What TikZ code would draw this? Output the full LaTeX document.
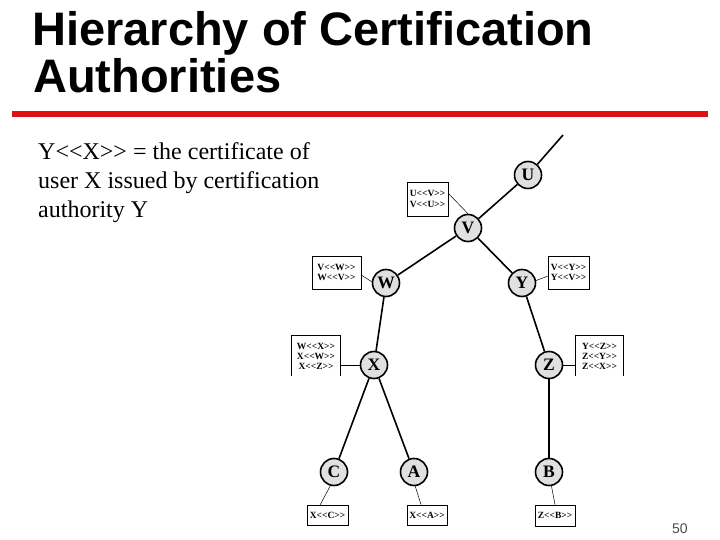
\documentclass[tikz,border=0pt]{standalone}
\usepackage{fontspec}
\setmainfont{Liberation Serif}
\newfontfamily\arialf{Liberation Sans}
\newcommand{\LLt}{<\kern0pt<}
\newcommand{\GGt}{>\kern0pt>}
\definecolor{titlered}{RGB}{225,15,15}
\begin{document}
\begin{tikzpicture}[x=1pt,y=-1pt,
  ca/.style={circle,draw,line width=1.6pt,fill=black!12,minimum size=27pt,inner sep=0pt,
    font=\bfseries\fontsize{17.5}{17.5}\selectfont},
  cert/.style={draw,line width=0.7pt,inner sep=0pt,align=center,
    font=\bfseries\fontsize{9.5}{10.5}\selectfont},
  certopen/.style={inner sep=0pt,align=center,font=\bfseries\fontsize{9.5}{10}\selectfont},
  tree/.style={line width=1.6pt},
  link/.style={line width=0.5pt},
  body/.style={anchor=base west,inner sep=0pt,font=\fontsize{24}{29}\selectfont},
  ttl/.style={anchor=base west,inner sep=0pt,font=\arialf\bfseries\fontsize{47}{47}\selectfont}]
\useasboundingbox (0,0) rectangle (720,540);

% title
\node[ttl] (t1) at (32,46) {Hierarchy of Certification};
\node[ttl] (t2) at (33,93) {Authorities};
\coordinate (rl) at (12,114);
\coordinate (rr) at (708,114);
\draw[titlered,line width=5.5pt] (rl) -- (rr);

% body text
\node[body] (b1) at (38,160) {Y\LLt X\GGt{} = the certificate of};
\node[body] (b2) at (38,189) {user X issued by certification};
\node[body] (b3) at (38,218) {authority Y};

% page number
\node[anchor=base west,inner sep=0pt,font=\arialf\fontsize{14}{14}\selectfont,text=black!70] (pn) at (672,533) {50};

% CA nodes
\node[ca] (U) at (528,175) {U};
\node[ca] (V) at (468,228) {V};
\node[ca] (W) at (386,283) {W};
\node[ca] (Y) at (522,283) {Y};
\node[ca] (X) at (374,365) {X};
\node[ca] (Z) at (549,365) {Z};
\node[ca] (C) at (334,472) {C};
\node[ca] (A) at (414,472) {A};
\node[ca] (B) at (549,472) {B};
\coordinate (top) at (563,135);

% tree edges
\draw[tree] (U) -- (top);
\draw[tree] (U) -- (V);
\draw[tree] (V) -- (W);
\draw[tree] (V) -- (Y);
\draw[tree] (W) -- (X);
\draw[tree] (Y) -- (Z);
\draw[tree] (X) -- (C);
\draw[tree] (X) -- (A);
\draw[tree] (Z) -- (B);

% certificate boxes
\node[cert,minimum width=41pt,minimum height=34pt] (ubox) at (427.5,199) {U\LLt V\GGt\\V\LLt U\GGt};
\node[cert,minimum width=49pt,minimum height=33pt] (wbox) at (336.5,272.5) {V\LLt W\GGt\\W\LLt V\GGt};
\node[cert,minimum width=41pt,minimum height=33pt] (ybox) at (568.5,272.5) {V\LLt Y\GGt\\Y\LLt V\GGt};
\node[certopen,minimum width=48pt,minimum height=40pt] (xbox) at (316,356) {W\LLt X\GGt\\X\LLt W\GGt\\X\LLt Z\GGt};
\node[certopen,minimum width=47pt,minimum height=40pt] (zbox) at (599.5,356) {Y\LLt Z\GGt\\Z\LLt Y\GGt\\Z\LLt X\GGt};
\node[cert,minimum width=41pt,minimum height=20pt] (cbox) at (327.5,515) {X\LLt C\GGt};
\node[cert,minimum width=40pt,minimum height=20pt] (abox) at (427,515) {X\LLt A\GGt};
\node[cert,minimum width=40pt,minimum height=21pt] (bbox) at (555,515.5) {Z\LLt B\GGt};

\draw[line width=0.7pt] (xbox.south west) -- (xbox.north west) -- (xbox.north east) -- (xbox.south east);
\draw[line width=0.7pt] (zbox.south west) -- (zbox.north west) -- (zbox.north east) -- (zbox.south east);

% thin links from boxes to CAs
\draw[link] (ubox.15) -- (V.north);
\draw[link] (wbox.-6) -- (W.175);
\draw[link] (Y.10) -- (ybox.190);
\draw[link] (xbox.east |- X) -- (X.west);
\draw[link] (Z.east) -- (zbox.west |- Z);
\draw[link] (C.255) -- (cbox.125);
\draw[link] (A.275) -- (abox.120);
\draw[link] (B.280) -- (bbox.north);
\end{tikzpicture}
\end{document}
